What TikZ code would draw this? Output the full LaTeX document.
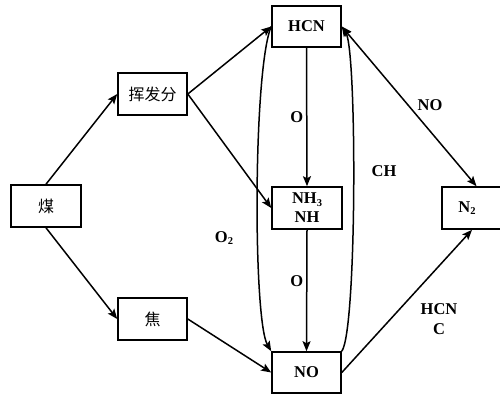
\documentclass[tikz,border=0pt]{standalone}
\usepackage{fontspec}
\setmainfont{Liberation Serif}
\newfontfamily\cjk{Noto Sans CJK SC}
\usetikzlibrary{arrows.meta}
\newcommand\subs[1]{\raisebox{-0.35ex}{\fontsize{10.5}{10.5}\selectfont #1}}
\begin{document}
\begin{tikzpicture}[x=1pt,y=-1pt,
  box/.style={draw,line width=1.6pt,minimum width=69pt,minimum height=41pt,inner sep=0pt},
  cjkbox/.style={box,font=\cjk\fontsize{16}{16}\selectfont},
  chem/.style={font=\bfseries\fontsize{16.5}{19}\selectfont,align=center},
  lbl/.style={font=\bfseries\fontsize{16.5}{20}\selectfont,align=center,inner sep=0pt},
  arr/.style={line width=1.5pt,-{Stealth[length=10pt,width=8pt,inset=2pt]}},
  darr/.style={line width=1.5pt,{Stealth[length=10pt,width=8pt,inset=2pt]}-{Stealth[length=10pt,width=8pt,inset=2pt]}}]
\useasboundingbox (0,0) rectangle (500,394);
\node[cjkbox,minimum width=70pt,minimum height=42pt] (mei) at (46,206) {煤};
\node[cjkbox,minimum height=42pt] (huifa) at (152.5,94) {挥发分};
\node[cjkbox,minimum height=42pt] (jiao) at (152.5,319) {焦};
\node[box,chem] (hcn) at (306.5,26.5) {HCN};
\node[box,chem,minimum width=70pt,minimum height=42pt] (nh) at (307,208) {NH\subs{3}\\NH};
\node[box,chem] (no) at (306.5,372.5) {NO};
\node[box,minimum height=42pt,label={[chem,xshift=-9.5pt]center:N\subs{2}}] (n2) at (476.5,208) {};
\draw[arr] (mei.north) -- (huifa.west);
\draw[arr] (mei.south) -- (jiao.west);
\draw[arr] (huifa.east) -- (hcn.west);
\draw[arr] (huifa.east) -- (nh.west);
\draw[arr] (jiao.east) -- (no.west);
\draw[arr] (hcn.south) -- node[lbl,pos=0.5,xshift=-10pt] (o1) {O} (nh.north);
\draw[arr] (nh.south) -- node[lbl,pos=0.42,xshift=-10pt] (o2) {O} (no.north);
\draw[darr] (hcn.east) -- (n2.north);
\draw[arr] (no.east) -- ([xshift=-4.5pt]n2.south);
\draw[arr] (hcn.west) .. controls (253,70) and (253,320) .. (no.north west);
\draw[arr] (no.north east) .. controls (357,330) and (357,50) .. (hcn.east);
\node[lbl] (lo2) at (224,238) {O\subs{2}};
\node[lbl] (lch) at (384,171) {CH};
\node[lbl] (lno) at (430,105) {NO};
\node[lbl] (lhcn) at (439,319) {HCN\\C};
\end{tikzpicture}
\end{document}
